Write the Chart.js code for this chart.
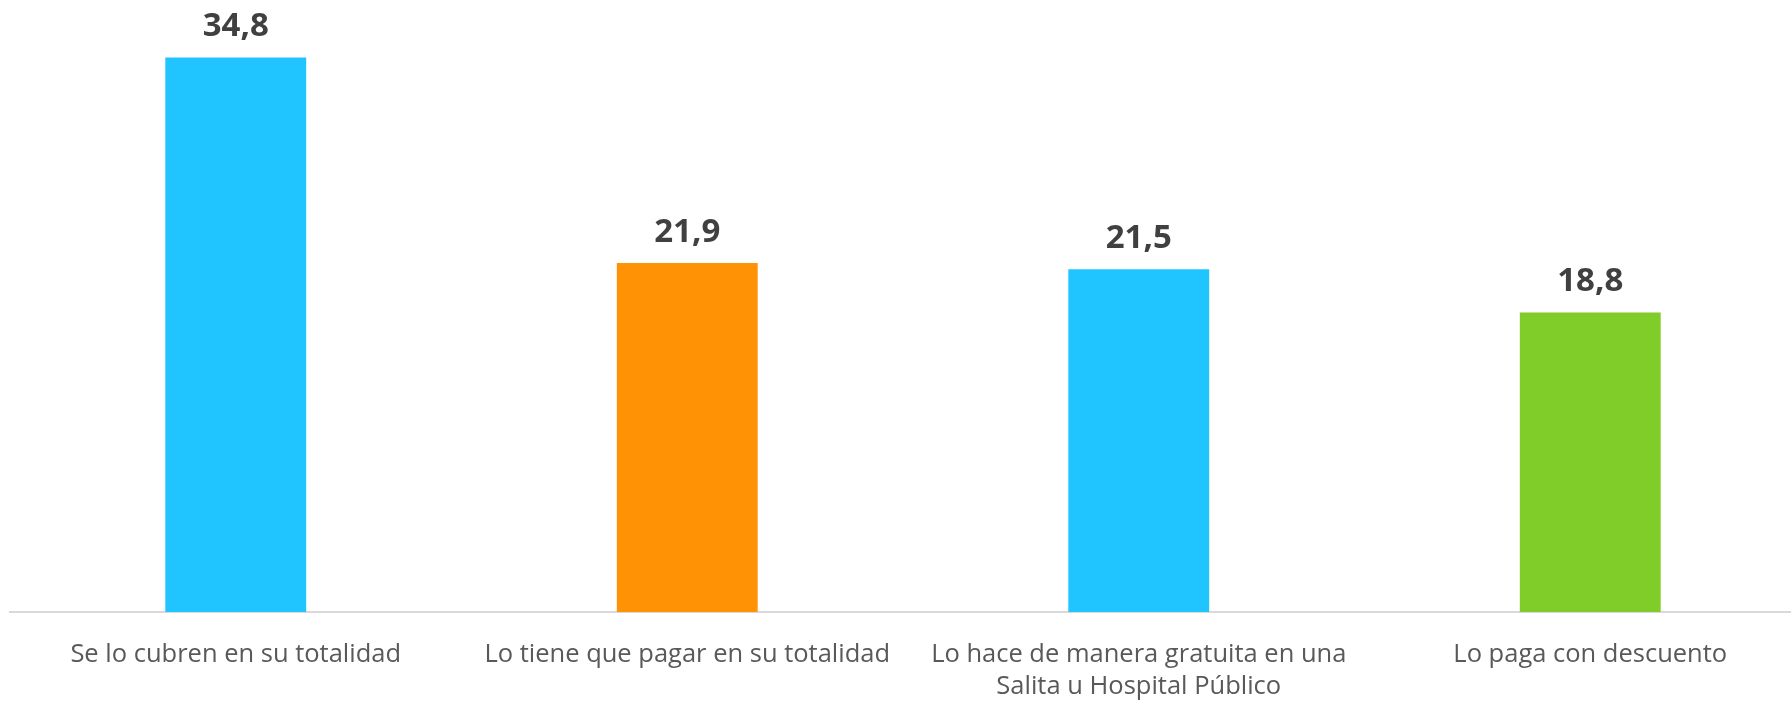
<!DOCTYPE html>
<html>
<head>
<meta charset="utf-8">
<script src="https://cdn.jsdelivr.net/npm/chart.js@4/dist/chart.umd.min.js"></script>
<style>
  html, body { margin: 0; padding: 0; background: #fff; overflow: hidden; }
  #wrap { width: 1816px; height: 701px; position: relative; }
</style>
</head>
<body>
<div id="wrap"><canvas id="chart"></canvas></div>
<script>
const categories = [
  "Se lo cubren en su totalidad",
  "Lo tiene que pagar en su totalidad",
  ["Lo hace de manera gratuita en una", "Salita u Hospital Público"],
  "Lo paga con descuento",
];
const values = [34.8, 21.9, 21.5, 18.8];
const barColors = ["#20c5ff", "#ff9305", "#20c5ff", "#80cc28"];

// Value labels above each bar, comma decimal like the original.
const valueLabels = {
  id: "valueLabels",
  afterDatasetsDraw(chart) {
    const { ctx } = chart;
    const meta = chart.getDatasetMeta(0);
    ctx.save();
    ctx.font = "bold 33px 'Open Sans'";
    ctx.fillStyle = "#404040";
    ctx.textAlign = "center";
    ctx.textBaseline = "alphabetic";
    meta.data.forEach((bar, i) => {
      ctx.fillText(values[i].toFixed(1).replace(".", ","), bar.x, bar.y - 21);
    });
    ctx.restore();
  },
};

new Chart(document.getElementById("chart"), {
  type: "bar",
  data: {
    labels: categories,
    datasets: [
      {
        data: values,
        backgroundColor: barColors,
        categoryPercentage: 1,
        barPercentage: 0.312,
      },
    ],
  },
  options: {
    responsive: true,
    maintainAspectRatio: false,
    animation: false,
    layout: { padding: { left: 10, right: 0, top: 0, bottom: 0 } },
    plugins: { legend: { display: false }, tooltip: { enabled: false } },
    scales: {
      x: {
        grid: { display: false, drawTicks: false },
        border: { display: true, color: "#d9d9d9", width: 2 },
        ticks: {
          color: "#595959",
          font: { family: "'Open Sans'", size: 25.5, lineHeight: 1.25 },
          padding: 27,
          maxRotation: 0,
          autoSkip: false,
        },
        afterFit: (scale) => { scale.height = 89; },
      },
      y: { display: false, min: 0, max: 38.4 },
    },
  },
  plugins: [valueLabels],
});
</script>
</body>
</html>
